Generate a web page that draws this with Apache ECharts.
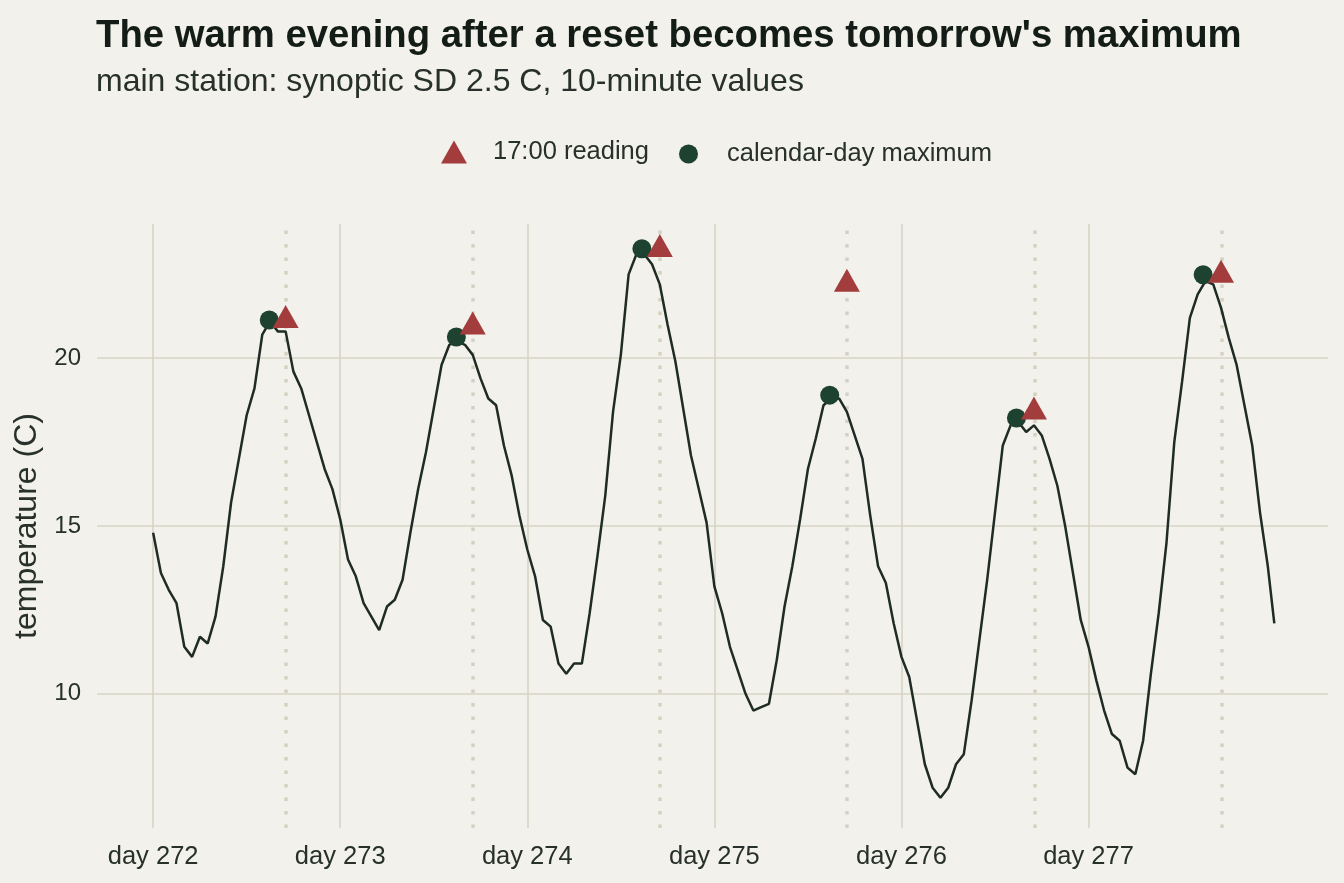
<!DOCTYPE html>
<html>
<head>
<meta charset="utf-8">
<title>Warm evening after a reset</title>
<script src="https://cdn.jsdelivr.net/npm/echarts@6/dist/echarts.min.js"></script>
<style>
  html, body { margin: 0; padding: 0; background: #f2f1eb; }
  #chart { width: 1344px; height: 883px; }
</style>
</head>
<body>
<div id="chart"></div>
<script>
// hourly readings (00:00 .. 23:00) taken off the 10-minute trace, per day
const days = [272, 273, 274, 275, 276, 277];
const temp272 = [14.8, 13.6, 13.1, 12.7, 11.4, 11.1, 11.7, 11.5, 12.3, 13.8, 15.7, 17.0, 18.3, 19.1, 20.7, 21.1, 20.8, 20.8, 19.6, 19.1, 18.3, 17.5, 16.7, 16.1];
const temp273 = [15.2, 14.0, 13.5, 12.7, 12.3, 11.9, 12.6, 12.8, 13.4, 14.8, 16.1, 17.2, 18.5, 19.8, 20.4, 20.5, 20.4, 20.1, 19.4, 18.8, 18.6, 17.4, 16.5, 15.3];
const temp274 = [14.3, 13.5, 12.2, 12.0, 10.9, 10.6, 10.9, 10.9, 12.4, 14.1, 15.9, 18.4, 20.1, 22.5, 23.1, 23.1, 22.8, 22.2, 21.0, 19.9, 18.5, 17.1, 16.1, 15.1];
const temp275 = [13.2, 12.4, 11.4, 10.7, 10.0, 9.5, 9.6, 9.7, 11.0, 12.6, 13.8, 15.2, 16.7, 17.6, 18.6, 18.8, 18.8, 18.4, 17.7, 17.0, 15.3, 13.8, 13.3, 12.1];
const temp276 = [11.1, 10.5, 9.2, 7.9, 7.2, 6.9, 7.2, 7.9, 8.2, 9.8, 11.6, 13.4, 15.4, 17.4, 18.0, 18.1, 17.8, 18.0, 17.7, 17.0, 16.2, 15.0, 13.6, 12.2];
const temp277 = [11.4, 10.4, 9.5, 8.8, 8.6, 7.8, 7.6, 8.6, 10.6, 12.4, 14.5, 17.5, 19.3, 21.2, 21.9, 22.3, 22.2, 21.5, 20.6, 19.8, 18.6, 17.4, 15.4, 13.8];
const dayTemps = [temp272, temp273, temp274, temp275, temp276, temp277];
const lastHour = 23 + 50 / 60;
const lastTemp = 12.1;

// 17:00 readings
const readingHour = 17;
const readingTemps = [21.24, 21.05, 23.36, 22.32, 18.52, 22.59];

// calendar-day maxima
const maxHours = [14.9, 14.9, 14.7, 14.8, 14.75, 14.7];
const maxTemps = [21.14, 20.63, 23.26, 18.90, 18.22, 22.49];

const yTicks = [10, 15, 20];

const FONT = '"Liberation Sans", Arial, Helvetica, sans-serif';

const traceData = [];
days.forEach((d, i) => {
    dayTemps[i].forEach((v, h) => traceData.push([d + h / 24, v]));
});
traceData.push([days[days.length - 1] + lastHour / 24, lastTemp]);

const readingData = days.map((d, i) => [d + readingHour / 24, readingTemps[i]]);
const maxData = days.map((d, i) => [d + maxHours[i] / 24, maxTemps[i]]);

const chart = echarts.init(document.getElementById('chart'));

chart.setOption({
    animation: false,
    backgroundColor: '#f2f1eb',
    textStyle: { fontFamily: FONT },
    title: [
        {
            text: "The warm evening after a reset becomes tomorrow's maximum",
            left: 96, top: 17, padding: 0,
            textStyle: { fontFamily: FONT, fontSize: 38.3, fontWeight: 'bold', color: '#141c17' }
        },
        {
            text: 'main station: synoptic SD 2.5 C, 10-minute values',
            left: 96, top: 66, padding: 0,
            textStyle: { fontFamily: FONT, fontSize: 32, fontWeight: 'normal', color: '#27302b' }
        }
    ],
    legend: [
        {
            data: ['17:00 reading'],
            left: 441, top: 139, padding: 0,
            icon: 'triangle', itemWidth: 26, itemHeight: 23,
            formatter: '{gap| }{name}',
            textStyle: {
                fontFamily: FONT, fontSize: 25.5, color: '#27302b',
                rich: { gap: { width: 21 } }
            }
        },
        {
            data: ['calendar-day maximum'],
            left: 679, top: 141, padding: 0,
            icon: 'circle', itemWidth: 19, itemHeight: 19,
            formatter: '{gap| }{name}',
            textStyle: {
                fontFamily: FONT, fontSize: 25.5, color: '#27302b',
                rich: { gap: { width: 24 } }
            }
        }
    ],
    grid: { left: 97, right: 16, top: 224, bottom: 55, containLabel: false },
    xAxis: {
        type: 'value',
        min: 271.7,
        max: 278.28,
        axisLine: { show: false },
        axisTick: { show: false, customValues: days },
        axisLabel: {
            customValues: days,
            formatter: v => 'day ' + v,
            fontFamily: FONT, fontSize: 25.5, color: '#27302b', margin: 16
        },
        splitLine: { show: true, lineStyle: { color: '#d6d5c4', width: 1.6 } }
    },
    yAxis: {
        type: 'value',
        min: 6,
        max: 24,
        name: 'temperature (C)',
        nameLocation: 'middle',
        nameGap: 48,
        nameTextStyle: { fontFamily: FONT, fontSize: 32, color: '#27302b' },
        axisLine: { show: false },
        axisTick: { show: false, customValues: yTicks },
        axisLabel: {
            customValues: yTicks,
            fontFamily: FONT, fontSize: 24, color: '#27302b', margin: 16
        },
        splitLine: { show: true, lineStyle: { color: '#d6d5c4', width: 1.6 } }
    },
    series: [
        {
            // 17:00 guide lines, behind the trace
            name: 'guides',
            type: 'line',
            data: [],
            z: 1,
            silent: true,
            markLine: {
                silent: true,
                symbol: 'none',
                z: 1,
                label: { show: false },
                lineStyle: { color: '#d3d2c1', width: 3.5, type: [3.5, 10] },
                data: days.map(d => ({ xAxis: d + readingHour / 24 }))
            }
        },
        {
            name: 'temperature',
            type: 'line',
            data: traceData,
            showSymbol: false,
            symbol: 'none',
            z: 10,
            lineStyle: { color: '#1f2b25', width: 2.5 }
        },
        {
            name: 'calendar-day maximum',
            type: 'scatter',
            data: maxData,
            symbol: 'circle',
            symbolSize: 19,
            z: 11,
            itemStyle: { color: '#1e4230', opacity: 1 }
        },
        {
            name: '17:00 reading',
            type: 'scatter',
            data: readingData,
            symbol: 'triangle',
            symbolSize: [26, 23],
            z: 12,
            itemStyle: { color: '#a33d3d', opacity: 1 }
        }
    ]
});
</script>
</body>
</html>
